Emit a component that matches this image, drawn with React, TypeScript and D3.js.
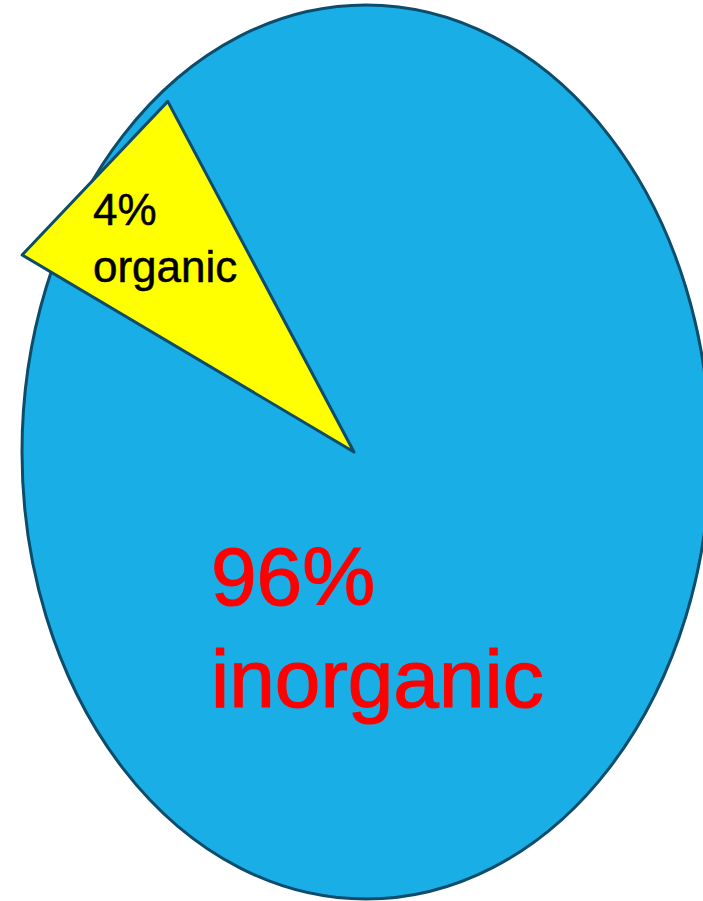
import React from 'react'
import * as d3 from 'd3'

const categories = ['organic', 'inorganic']
const percentLabels = ['4%', '96%']
// share of the turn each wedge takes in the drawing (the organic wedge is drawn wider than its 4%)
const drawnShares = [8.7, 91.3]
const colors = ['#ffff00', '#1aaee6']
const labelColors = ['#000000', '#ff0000']

const width = 703
const height = 901
const outline = '#0d4d6b'

// the whole pie is an upright ellipse, the small wedge is a straight-edged triangle on top of it
const ell = { cx: 366, cy: 452, rx: 344, ry: 447 }
const apex: [number, number] = [354, 452]
const wedgeRadius = 392
const startDeg = -59.3

const App = () => {
  const pie = d3.pie<number>()
    .sort(null)
    .startAngle((startDeg * Math.PI) / 180)
    .endAngle((startDeg * Math.PI) / 180 + 2 * Math.PI)
  const arcs = pie(drawnShares)
  const organic = arcs[0]

  const p0 = d3.pointRadial(organic.startAngle, wedgeRadius - 6)
  const p1 = d3.pointRadial(organic.endAngle, wedgeRadius + 5)
  const tri = d3.line()([
    apex,
    [apex[0] + p0[0], apex[1] + p0[1]],
    [apex[0] + p1[0], apex[1] + p1[1]],
  ]) + 'Z'

  return (
    <svg width={width} height={height}
      style={{ position: 'absolute', left: 0, top: 0, background: '#fff' }}
      fontFamily="'Liberation Sans', Arial, sans-serif">
      <ellipse cx={ell.cx} cy={ell.cy} rx={ell.rx} ry={ell.ry}
        fill={colors[1]} stroke={outline} strokeWidth={3} />
      <path d={tri} fill={colors[0]} stroke={outline} strokeWidth={3} strokeLinejoin="round" />

      <g fill={labelColors[0]} stroke={labelColors[0]} strokeWidth={0.5} fontSize={44}>
        <text x={93} y={225}>{percentLabels[0]}</text>
        <text x={93} y={282}>{categories[0]}</text>
      </g>

      <g fill={labelColors[1]} stroke={labelColors[1]} strokeWidth={1.2} fontSize={82}>
        <text x={211} y={605}>{percentLabels[1]}</text>
        <text x={211} y={707}>{categories[1]}</text>
      </g>
    </svg>
  )
}

export default App
